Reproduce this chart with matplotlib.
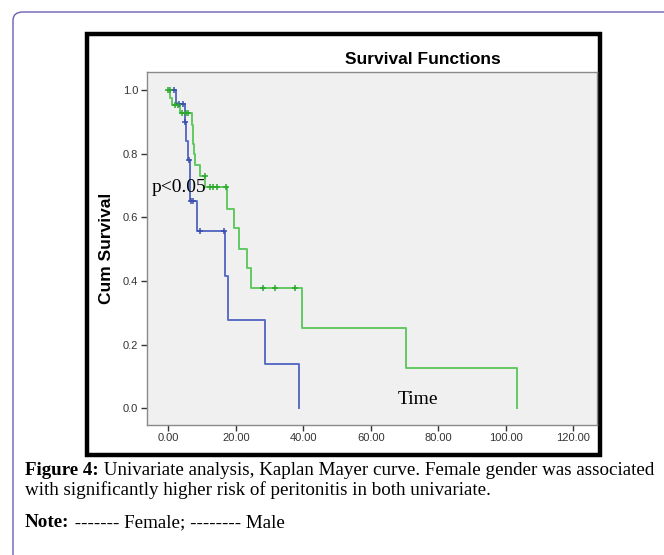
import numpy as np
import matplotlib.pyplot as plt
from matplotlib.patches import Rectangle, FancyBboxPatch

# Kaplan-Meier curves
czas_m = [0, 2.4, 4.8, 5.3, 5.7, 6.5, 8.6, 16.7, 17.6, 28.7, 38.7]
przezycie_m = [1.0, 0.956, 0.90, 0.84, 0.78, 0.65, 0.556, 0.417, 0.278, 0.139, 0.0]
cenzura_m = [1.7, 3.1, 4.4, 4.9, 6.0, 6.8, 7.2, 9.4, 16.4]

czas_k = [0, 0.5, 1.2, 3.6, 6.9, 7.3, 7.7, 8.0, 9.5, 11.0, 17.4, 19.4, 20.9, 23.2, 24.4, 39.6, 70.5, 103.2]
przezycie_k = [1.0, 0.976, 0.952, 0.928, 0.89, 0.83, 0.80, 0.764, 0.73, 0.696, 0.627, 0.566, 0.50, 0.44, 0.378, 0.252, 0.126, 0.0]
cenzura_k = [0.0, 0.4, 1.9, 2.9, 4.2, 5.2, 5.7, 10.9, 12.4, 13.1, 14.4, 17.1, 28.1, 31.5, 37.4]

x_ticki = [0, 20, 40, 60, 80, 100, 120]
y_ticki = [0.0, 0.2, 0.4, 0.6, 0.8, 1.0]

NIEBIESKI = '#5a6ec4'
ZIELONY = '#62c862'

plt.rcParams['font.family'] = ['Liberation Sans', 'DejaVu Sans']


def wartosc(czas, przezycie, t):
    i = np.searchsorted(czas, t, side='right') - 1
    return przezycie[max(i, 0)]


W, H = 664, 555
fig = plt.figure(figsize=(W / 100, H / 100), dpi=100)

# Ramka strony (zaokraglona, widoczna tylko z lewej i u gory)
ramka = FancyBboxPatch((13 / W, -0.2), 1.2, 1.2 - 12 / H,
                       boxstyle="round,pad=0,rounding_size=0.015",
                       transform=fig.transFigure, fill=False,
                       edgecolor='#6a5fb0', linewidth=1.0)
fig.patches.append(ramka)

# Czarna ramka wokol wykresu
fig.patches.append(Rectangle((87 / W, 1 - 455 / H), (600 - 87) / W, (455 - 34) / H,
                             transform=fig.transFigure, fill=False,
                             edgecolor='black', linewidth=3.2))

ax = fig.add_axes([146.5 / W, 1 - 425 / H, (596.7 - 146.5) / W, (425 - 71.7) / H])
ax.set_zorder(3)
ax.set_facecolor('#f0f0f0')
for s in ax.spines.values():
    s.set_color('#8a8a8a')
    s.set_linewidth(1.0)

ax.step(czas_m, przezycie_m, where='post', color=NIEBIESKI, linewidth=1.4)
ax.step(czas_k, przezycie_k, where='post', color=ZIELONY, linewidth=1.4)

ax.plot(cenzura_m, [wartosc(czas_m, przezycie_m, t) for t in cenzura_m], '+',
        color='#3a4fae', markersize=5, markeredgewidth=1.1)
ax.plot(cenzura_k, [wartosc(czas_k, przezycie_k, t) for t in cenzura_k], '+',
        color='#2ca82c', markersize=5, markeredgewidth=1.1)

ax.set_xlim(-6.46, 126.9)
ax.set_ylim(-0.0525, 1.0575)
ax.set_xticks(x_ticki)
ax.set_xticklabels([f'{v:.2f}' for v in x_ticki])
ax.set_yticks(y_ticki)
ax.set_yticklabels([f'{v:.1f}' for v in y_ticki])
ax.tick_params(direction='out', length=4, width=1, color='#333333',
               labelsize=8, labelcolor='#333333', pad=2)

ax.set_ylabel('Cum Survival', fontsize=12.5, fontweight='bold')
ax.yaxis.set_label_coords(-0.072, 0.5)
fig.text(423 / W, 1 - 60 / H, 'Survival Functions', fontsize=12.5, fontweight='bold',
         ha='center', va='center')

ax.text(-4.9, 0.693, 'p<0.05', fontsize=14, family='Liberation Serif', va='center')
ax.text(74, 0.028, 'Time', fontsize=14, family='Liberation Serif', ha='center', va='center')

# Podpis pod rysunkiem
szer = 13.7
r = fig.canvas.get_renderer()
for y, pogr, reszta in [(475, 'Figure 4:', ' Univariate analysis, Kaplan Mayer curve. Female gender was associated'),
                        (495, '', 'with significantly higher risk of peritonitis in both univariate.'),
                        (527, 'Note:', ' ------- Female; -------- Male')]:
    x0 = 25 / W
    if pogr:
        t = fig.text(x0, 1 - y / H, pogr, fontsize=szer, fontweight='bold',
                     family='Liberation Serif', va='baseline')
        x0 += t.get_window_extent(r).width / W
    fig.text(x0, 1 - y / H, reszta, fontsize=szer, family='Liberation Serif', va='baseline')

fig.savefig('out.png', dpi=100)
